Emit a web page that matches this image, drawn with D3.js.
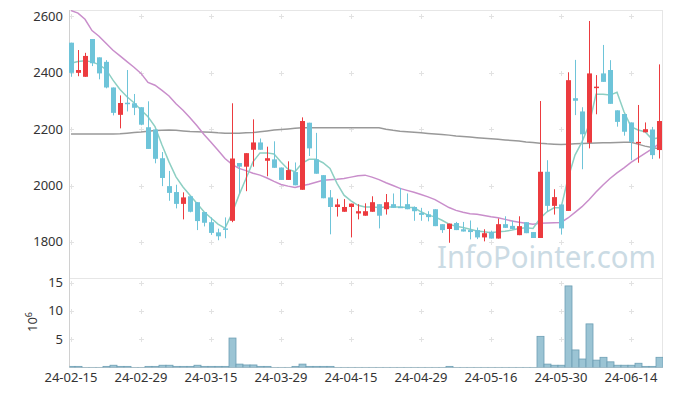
<!DOCTYPE html>
<html>
<head>
<meta charset="utf-8">
<script src="https://cdn.jsdelivr.net/npm/d3@7"></script>
<style>
  body { margin: 0; background: #fff; }
  svg { display: block; font-family: "Noto Sans", sans-serif; }
</style>
</head>
<body>
<div class="stock-chart"></div>
<script>
// trading days (YY-MM-DD)
const dates = [
  '24-02-15','24-02-16','24-02-19','24-02-20','24-02-21','24-02-22','24-02-23','24-02-26','24-02-27','24-02-28',
  '24-02-29','24-03-04','24-03-05','24-03-06','24-03-07','24-03-08','24-03-11','24-03-12','24-03-13','24-03-14',
  '24-03-15','24-03-18','24-03-19','24-03-20','24-03-21','24-03-22','24-03-25','24-03-26','24-03-27','24-03-28',
  '24-03-29','24-04-01','24-04-02','24-04-03','24-04-04','24-04-05','24-04-08','24-04-09','24-04-11','24-04-12',
  '24-04-15','24-04-16','24-04-17','24-04-18','24-04-19','24-04-22','24-04-23','24-04-24','24-04-25','24-04-26',
  '24-04-29','24-04-30','24-05-02','24-05-03','24-05-07','24-05-08','24-05-09','24-05-10','24-05-13','24-05-14',
  '24-05-16','24-05-17','24-05-20','24-05-21','24-05-22','24-05-23','24-05-24','24-05-27','24-05-28','24-05-29',
  '24-05-30','24-05-31','24-06-03','24-06-04','24-06-05','24-06-07','24-06-10','24-06-11','24-06-12','24-06-13',
  '24-06-14','24-06-17','24-06-18','24-06-19','24-06-20'
]

const open = [2507,2400,2386,2520,2455,2439,2348,2251,2294,2292,2278,2207,2199,2097,1998,1977,1935,1962,1941,1906,
  1870,1834,1848,1875,2080,2067,2127,2153,2088,2093,2064,2020,2048,1985,2223,2093,2037,1958,1924,1907,
  1924,1901,1893,1907,1934,1916,1934,1925,1934,1924,1903,1898,1916,1863,1846,1867,1845,1842,1842,1816,
  1836,1812,1863,1857,1824,1870,1835,1814,2049,1928,1933,1910,2310,2263,2152,2347,2398,2410,2267,2254,
  2224,2150,2189,2199,2126]
const high = [2507,2481,2471,2520,2455,2445,2348,2320,2410,2325,2278,2299,2199,2119,2052,2003,1976,1962,1941,1906,
  1887,1847,1887,2292,2080,2115,2235,2167,2138,2157,2064,2086,2082,2242,2223,2187,2037,1984,1953,1952,
  1936,1934,1937,1962,1934,1970,1972,1992,1972,1926,1921,1909,1916,1863,1865,1871,1871,1876,1851,1845,
  1840,1883,1891,1876,1891,1870,1835,2300,2090,1987,1933,2402,2446,2278,2584,2392,2499,2445,2267,2254,
  2224,2286,2224,2208,2430]
const low = [2386,2388,2386,2424,2377,2345,2249,2203,2263,2250,2214,2130,2079,1998,1946,1919,1880,1905,1842,1855,
  1825,1806,1813,1870,1972,1980,2067,2127,2033,2063,2020,2020,2001,1985,2105,2042,1955,1827,1890,1907,
  1816,1880,1893,1907,1848,1897,1921,1922,1916,1875,1875,1873,1856,1832,1797,1842,1837,1809,1810,1802,
  1812,1812,1850,1846,1824,1831,1814,1814,1907,1897,1826,1910,2250,2058,2132,2253,2368,2290,2209,2177,
  2090,2081,2189,2094,2096]
const close = [2400,2410,2460,2434,2398,2348,2258,2293,2291,2276,2216,2130,2095,2027,1974,1935,1958,1907,1874,1868,
  1832,1820,1844,2096,2067,2115,2153,2127,2097,2063,2020,2055,2001,2229,2132,2042,1955,1924,1933,1924,
  1936,1909,1909,1941,1893,1941,1921,1923,1916,1909,1896,1888,1856,1842,1865,1842,1837,1835,1816,1831,
  1812,1863,1850,1846,1856,1831,1814,2049,1928,1959,1848,2374,2301,2182,2398,2351,2368,2290,2226,2191,
  2155,2155,2200,2108,2229]

// volume, millions of shares
const volume = [0.2,0.2,0.02,0.02,0.02,0.2,0.4,0.2,0.2,0.02,0.02,0.2,0.2,0.4,0.4,0.2,0.2,0.2,0.4,0.2,
  0.2,0.2,0.2,5.2,0.6,0.45,0.45,0.2,0.2,0.02,0.02,0.02,0.2,0.6,0.2,0.2,0.2,0.2,0.02,0.02,
  0.02,0.02,0.02,0.02,0.02,0.02,0.02,0.02,0.02,0.02,0.02,0.02,0.02,0.02,0.2,0.02,0.02,0.02,0.02,0.02,
  0.02,0.02,0.02,0.02,0.02,0.02,0.02,5.5,0.6,0.4,0.4,14.4,3.1,1.5,7.7,1.3,1.8,1.0,0.4,0.4,
  0.4,0.75,0.2,0.2,1.8]

// moving averages
const ma5 = [2434,2440,2443,2439,2429,2412,2374,2341,2315,2294,2268,2244,2209,2144,2084,2031,1995,1966,1936,1907,
  1885,1863,1849,1901,1966,2025,2084,2116,2116,2112,2084,2058,2049,2079,2093,2093,2081,2061,2008,1966,
  1946,1930,1924,1924,1922,1924,1924,1924,1922,1922,1907,1895,1889,1877,1863,1856,1851,1845,1839,1836,
  1833,1836,1838,1842,1848,1850,1848,1883,1907,1921,1921,2025,2108,2155,2215,2324,2324,2321,2331,2262,
  2209,2197,2191,2165,2170]
const ma20 = [2621,2612,2590,2550,2530,2505,2480,2460,2440,2420,2398,2366,2356,2338,2318,2290,2267,2241,2212,2181,
  2154,2125,2096,2075,2061,2053,2044,2037,2027,2015,2004,1998,1993,1999,2005,2012,2019,2021,2022,2025,
  2030,2035,2037,2030,2021,2010,2000,1990,1983,1976,1968,1960,1950,1936,1922,1912,1905,1900,1898,1894,
  1889,1886,1880,1874,1870,1866,1863,1866,1867,1868,1869,1885,1905,1925,1950,1977,2002,2025,2045,2063,
  2082,2098,2114,2130,2148]
const ma120 = [2183,2183,2183,2183,2183,2183,2183,2184,2186,2188,2190,2193,2195,2196,2197,2196,2194,2192,2191,2190,
  2189,2187,2186,2186,2186,2187,2188,2191,2194,2197,2199,2201,2203,2205,2205,2205,2205,2205,2205,2205,
  2205,2205,2205,2205,2205,2200,2196,2193,2191,2189,2187,2185,2183,2181,2179,2176,2174,2172,2170,2168,
  2166,2164,2162,2160,2158,2155,2153,2150,2148,2147,2146,2147,2148,2149,2150,2151,2152,2152,2153,2154,
  2154,2147,2140,2135,2131]

const priceTicks = [1800, 2000, 2200, 2400, 2600]
const volTicks = [5, 10, 15]
const dateTicks = [0, 10, 20, 30, 40, 50, 60, 70, 80]

const width = 673
const height = 396
const left = 69, right = 663
const mainTop = 10, mainBottom = 278, volBottom = 367.5

const svg = d3.select(".stock-chart").append("svg")
    .attr("width", width)
    .attr("height", height)
    .attr("viewBox", [0, 0, width, height])

const x = d3.scaleLinear().domain([0, dates.length - 1]).range([71, 659])
const y = d3.scaleLinear().domain([1672, 2623]).range([mainBottom, mainTop])
const yv = d3.scaleLinear().domain([0, 15.8]).range([volBottom, mainBottom])

const candles = dates.map((d, i) => ({i, date: d, o: open[i], h: high[i], l: low[i], c: close[i], v: volume[i]}))

svg.append("clipPath").attr("id", "clip-main")
  .append("rect").attr("x", left).attr("y", mainTop).attr("width", right - left).attr("height", mainBottom - mainTop)
svg.append("clipPath").attr("id", "clip-vol")
  .append("rect").attr("x", left + 0.5).attr("y", mainTop).attr("width", right - left - 0.5).attr("height", volBottom - mainTop)

// watermark
svg.append("text")
    .attr("x", 437).attr("y", 268)
    .attr("textLength", 219).attr("lengthAdjust", "spacingAndGlyphs")
    .style("font-size", "31px")
    .style("fill", "#cbdbe4")
    .text("InfoPointer.com")

// grid crosses
const grid = svg.append("g").attr("stroke", "#e2e2e2").attr("stroke-width", 1)
const crossRows = priceTicks.map(p => y(p)).concat(volTicks.map(v => yv(v)))
dateTicks.forEach(t => {
  crossRows.forEach(cy => {
    const cx = Math.round(x(t)) + 0.5, yy = Math.round(cy) + 0.5
    grid.append("line").attr("x1", cx - 2.5).attr("x2", cx + 2.5).attr("y1", yy).attr("y2", yy)
    grid.append("line").attr("x1", cx).attr("x2", cx).attr("y1", yy - 2.5).attr("y2", yy + 2.5)
  })
})

// frame
const frame = svg.append("g").attr("fill", "none")
frame.append("rect").attr("x", left + 0.5).attr("y", mainTop + 0.5)
    .attr("width", right - left - 1).attr("height", volBottom - mainTop - 0.5)
    .attr("stroke", "#e6e6e6")
frame.append("line").attr("x1", left).attr("x2", right).attr("y1", mainBottom + 0.5).attr("y2", mainBottom + 0.5)
    .attr("stroke", "#e6e6e6")
frame.append("line").attr("x1", left + 0.5).attr("x2", left + 0.5).attr("y1", mainTop).attr("y2", volBottom)
    .attr("stroke", "#d0d0d0")
frame.append("line").attr("x1", left).attr("x2", right).attr("y1", volBottom).attr("y2", volBottom)
    .attr("stroke", "#d6d6d6")

// moving average lines
const plot = svg.append("g").attr("clip-path", "url(#clip-main)")
const lineGen = d3.line().x((d, i) => x(i)).y(d => y(d))
const maLines = [
  {values: ma120, color: "#999999"},
  {values: ma20, color: "#c98ecb"},
  {values: ma5, color: "#8dcfc3"}
]
plot.selectAll("path.ma")
  .data(maLines)
  .join("path")
    .attr("class", "ma")
    .attr("d", d => lineGen(d.values))
    .attr("fill", "none")
    .attr("stroke", d => d.color)
    .attr("stroke-width", 1.5)

// candles: red up, blue down
const upColor = "#ec3b3f"
const downColor = "#6ec4d9"
const candleG = plot.selectAll("g.candle")
  .data(candles)
  .join("g")
    .attr("class", "candle")
    .attr("fill", d => d.c >= d.o ? upColor : downColor)
    .attr("stroke", d => d.c >= d.o ? upColor : downColor)

candleG.append("line")
    .attr("x1", d => Math.round(x(d.i)) + 0.5)
    .attr("x2", d => Math.round(x(d.i)) + 0.5)
    .attr("y1", d => y(d.h))
    .attr("y2", d => y(d.l))
    .attr("stroke-width", 1)

candleG.append("rect")
    .attr("x", d => Math.round(x(d.i)) - 2)
    .attr("width", 5)
    .attr("y", d => y(Math.max(d.o, d.c)))
    .attr("height", d => Math.max(1.5, Math.abs(y(d.o) - y(d.c))))
    .attr("stroke", "none")

// volume bars
svg.append("g").attr("clip-path", "url(#clip-vol)")
  .selectAll("rect")
  .data(candles)
  .join("rect")
    .attr("x", d => x(d.i) - 3)
    .attr("width", 7)
    .attr("y", d => yv(d.v))
    .attr("height", d => yv(0) - yv(d.v))
    .attr("fill", "#9bc4d4")
    .attr("stroke", "#6d9fb4")
    .attr("stroke-width", 0.8)

// axis labels
const labels = svg.append("g").style("font-size", "13px").style("fill", "#333")
labels.selectAll("text.py")
  .data(priceTicks)
  .join("text")
    .attr("class", "py")
    .attr("x", 63).attr("y", d => y(d))
    .attr("dy", "0.35em")
    .attr("text-anchor", "end")
    .text(d => d)

labels.selectAll("text.vy")
  .data(volTicks)
  .join("text")
    .attr("class", "vy")
    .attr("x", 63).attr("y", d => yv(d))
    .attr("dy", "0.35em")
    .attr("text-anchor", "end")
    .text(d => d)

labels.selectAll("text.dx")
  .data(dateTicks)
  .join("text")
    .attr("class", "dx")
    .attr("x", d => x(d)).attr("y", 382)
    .attr("text-anchor", "middle")
    .text(d => dates[d])

const unit = labels.append("text")
    .attr("transform", "translate(37,332) rotate(-90)")
unit.append("tspan").text("10")
unit.append("tspan").attr("dy", -5).style("font-size", "9px").text("6")
</script>
</body>
</html>
